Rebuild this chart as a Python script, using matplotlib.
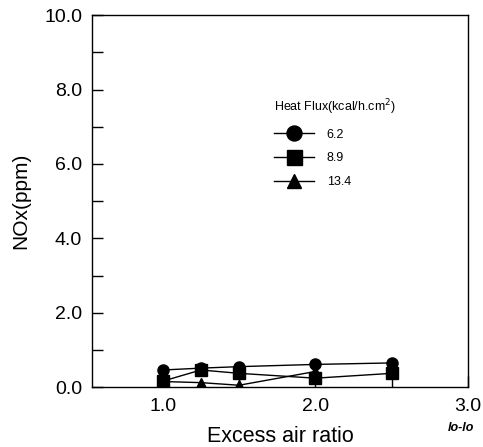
import numpy as np
import matplotlib
matplotlib.use("Agg")
import matplotlib.pyplot as plt
from matplotlib.ticker import MultipleLocator

plt.rcParams['font.family'] = ['Liberation Sans', 'DejaVu Sans']

# Excess air ratio vs NOx for each heat flux
air_ratio = [1.0, 1.25, 1.5, 2.0, 2.5]
nox_62 = [0.46, 0.51, 0.55, 0.61, 0.65]
nox_89 = [0.16, 0.46, 0.37, 0.24, 0.37]
air_ratio_134 = [1.0, 1.25, 1.5, 2.0]
nox_134 = [0.15, 0.12, 0.05, 0.42]
flux_labels = ['6.2', '8.9', '13.4']

fig = plt.figure(figsize=(4.83, 4.47), dpi=100)
ax = fig.add_axes([0.19, 0.134, 0.779, 0.832])

ax.plot(air_ratio, nox_62, color='black', lw=1, marker='o', ms=8, label=flux_labels[0])
ax.plot(air_ratio, nox_89, color='black', lw=1, marker='s', ms=8, label=flux_labels[1])
ax.plot(air_ratio_134, nox_134, color='black', lw=1, marker='^', ms=7, label=flux_labels[2])

ax.set_xlim(0.535, 3.0)
ax.set_ylim(0, 10)
ax.xaxis.set_minor_locator(MultipleLocator(0.5))
ax.yaxis.set_major_locator(MultipleLocator(2.0))
ax.yaxis.set_minor_locator(MultipleLocator(1.0))
ax.set_xticks([1.0, 2.0, 3.0])
ax.xaxis.set_major_formatter(plt.FormatStrFormatter('%.1f'))
ax.yaxis.set_major_formatter(plt.FormatStrFormatter('%.1f'))
ax.tick_params(which='both', direction='in', length=8, width=1, labelsize=14)
ax.tick_params(axis='x', pad=8)
ax.tick_params(axis='y', pad=7)
for s in ax.spines.values():
    s.set_linewidth(1)

ax.set_xlabel('Excess air ratio', fontsize=15.5, labelpad=8)
ax.set_ylabel('NOx(ppm)', fontsize=15, labelpad=10)

leg = ax.legend(loc='upper left', bbox_to_anchor=(0.455, 0.81), frameon=False,
                title='Heat Flux(kcal/h.cm$^2$)', title_fontsize=9, fontsize=9,
                handlelength=3.2, labelspacing=0.95, handletextpad=1.0,
                markerscale=1.35)
leg._legend_box.align = 'left'

fig.text(0.955, 0.035, 'lo-lo', fontsize=9, style='italic', fontweight='bold', ha='center')

fig.savefig('out.png', dpi=100)
